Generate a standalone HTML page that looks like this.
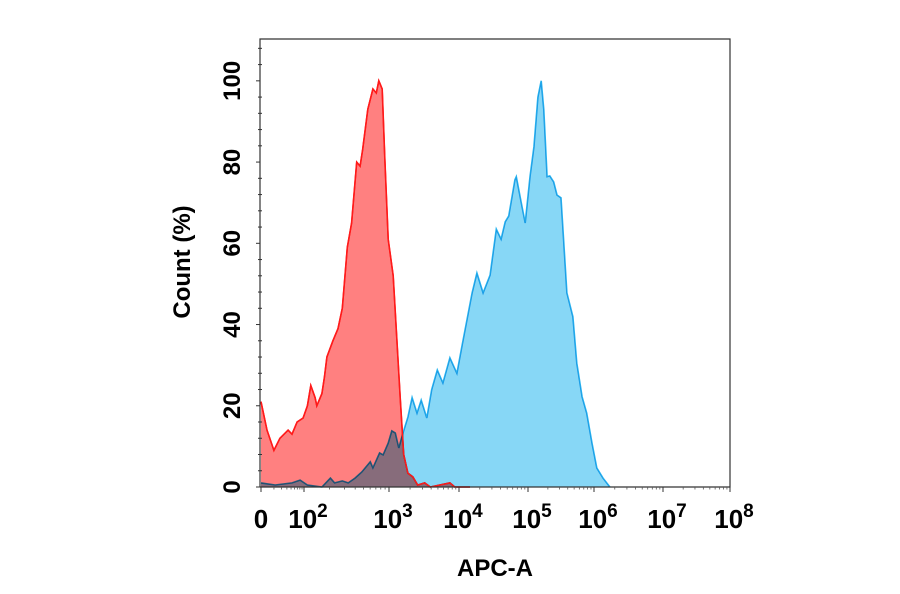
<!DOCTYPE html>
<html><head><meta charset="utf-8"><style>
html,body{margin:0;padding:0;background:#fff}
svg{display:block;font-family:"Liberation Sans",Arial,sans-serif}
</style></head><body>
<svg id="chart" width="900" height="594" viewBox="0 0 900 594" xmlns="http://www.w3.org/2000/svg">
<g id="plot"></g>
<g id="axes"></g>
<text transform="translate(190,262) rotate(-90)" text-anchor="middle" font-size="24" font-weight="bold" fill="#000">Count (%)</text>
<text x="495" y="576" text-anchor="middle" font-size="24" font-weight="bold" fill="#000">APC-A</text>
</svg>
<script>
// Data: x in decade units (1 = "0" label, 2 = 10^2, ... 8 = 10^8), y in Count (%)
const redX = [1.00,1.14,1.30,1.44,1.63,1.72,1.84,1.98,2.04,2.08,2.13,2.15,2.21,2.24,2.27,2.34,2.40,2.45,2.51,2.56,2.62,2.66,2.69,2.75,2.81,2.85,2.88,2.92,2.95,2.99,3.06,3.11,3.16,3.21,3.27,3.34,3.41,3.51,3.59,3.87,3.94,4.16];
const redY = [21,14,9,12,14,13,16,17,20,25,22,20,23,27,32,36,39,44,59,65,80,79,83,93,98,97,100,98,81,61,52,37,22,8,3.4,2.5,0.5,1,0,1,0,0];
const blueX = [1.00,1.33,1.72,1.91,2.04,2.21,2.31,2.36,2.45,2.52,2.60,2.68,2.78,2.81,2.89,2.93,2.99,3.04,3.09,3.14,3.20,3.27,3.33,3.40,3.46,3.54,3.61,3.69,3.77,3.87,3.97,4.04,4.19,4.26,4.35,4.45,4.54,4.61,4.67,4.72,4.81,4.83,4.90,4.96,5.03,5.09,5.15,5.20,5.24,5.29,5.33,5.39,5.44,5.50,5.53,5.59,5.68,5.74,5.82,5.89,5.97,6.04,6.13,6.23];
const blueY = [1,0.5,1,1.7,0.5,0,2.2,1,1.5,1,2.2,3.7,6.2,4.7,8.4,7.9,10.8,13.8,13.3,9.6,13.3,17.2,22,18.2,21.4,17,24,28.8,25.6,31.8,28,34.5,47.8,52.7,47.8,52.2,63.5,61,65.3,66.7,75.6,76.4,70.2,65,76.4,83.7,96,100,92.9,76.4,76.6,75.1,71.9,71.2,63.3,47.8,41.9,30.5,22.2,18.2,10.8,4.7,2.2,0];
const yTicks = [0,20,40,60,80,100];
const xTickVals = [1,2,3,4,5,6,7,8];
const xTickExp = ["","2","3","4","5","6","7","8"];

const NS="http://www.w3.org/2000/svg";
const L=260,R=730,T=39,B=487;
const yMax=110.3;
const xAnchorPx=[261,304,389,459,528,594,663,730];
function xs(v){
  if(v<=1) return xAnchorPx[0];
  if(v>=8) return xAnchorPx[7];
  const i=Math.floor(v)-1, f=v-Math.floor(v);
  return xAnchorPx[i]+(xAnchorPx[i+1]-xAnchorPx[i])*f;
}
function ys(v){return B-(v/yMax)*(B-T);}
function mk(tag,attrs,parent){const e=document.createElementNS(NS,tag);for(const k in attrs)e.setAttribute(k,attrs[k]);parent.appendChild(e);return e;}
const plot=document.getElementById('plot'), axes=document.getElementById('axes');

function areaPath(xa,ya){
  let d="M"+xs(xa[0])+","+B;
  for(let i=0;i<xa.length;i++) d+=" L"+xs(xa[i]).toFixed(1)+","+ys(ya[i]).toFixed(1);
  d+=" L"+xs(xa[xa.length-1]).toFixed(1)+","+B+" Z";
  return d;
}
function linePath(xa,ya){
  let d="";
  for(let i=0;i<xa.length;i++) d+=(i?" L":"M")+xs(xa[i]).toFixed(1)+","+ys(ya[i]).toFixed(1);
  return d;
}
const rf=mk('path',{d:areaPath(redX,redY),fill:'#ff8080',stroke:'none'},plot);


const rl=mk('path',{d:linePath(redX,redY),fill:'none',stroke:'#ff1a1a','stroke-width':1.6},plot);


const bf=mk('path',{d:areaPath(blueX,blueY),fill:'#87d7f6',stroke:'none',style:'mix-blend-mode:multiply'},plot);


const bl=mk('path',{d:linePath(blueX,blueY),fill:'none',stroke:'#2ab4ee','stroke-width':1.6,style:'mix-blend-mode:multiply'},plot);


const rl2=mk('path',{d:linePath(redX,redY),fill:'none',stroke:'#ff1a1a','stroke-width':1.4},plot);



const fr=mk('path',{d:`M${L},${B} L${L},${T} L${R},${T} L${R},${B} L${L},${B}`,fill:'none',stroke:'#333','stroke-width':1.2},axes);


for(let v=0;v<=108;v+=4){
  const major=v%20===0;
  const t=mk('line',{x1:L-(major?4:2),x2:L+(major?0:2),y1:ys(v),y2:ys(v),stroke:'#333','stroke-width':1},axes);
  
  
}
yTicks.forEach(v=>{
  const t=mk('text',{transform:`translate(240,${ys(v)}) rotate(-90)`,'text-anchor':'middle','font-size':24,'font-weight':'bold',fill:'#000'},axes);
  t.textContent=String(v);
  
  
});
xTickVals.forEach(v=>{
  const t=mk('line',{x1:xs(v),x2:xs(v),y1:B,y2:B+5,stroke:'#333','stroke-width':1},axes);
  
  
  if(v<8){for(let k=2;k<10;k++){const mv=v+Math.log10(k);
    const m=mk('line',{x1:xs(mv),x2:xs(mv),y1:B,y2:B+2.5,stroke:'#555','stroke-width':0.8},axes);
    
    }}
});
xTickVals.forEach((v,i)=>{
  const t=mk('text',{x:xs(v),y:528,'font-size':26,'font-weight':'bold',fill:'#000','text-anchor':'middle'},axes);
  
  
  if(i===0){t.textContent="0";}
  else{
    const a=document.createElementNS(NS,'tspan');a.textContent="10";t.appendChild(a);
    const s=document.createElementNS(NS,'tspan');s.setAttribute('dy','-11');s.setAttribute('font-size','19');s.textContent=xTickExp[i];t.appendChild(s);
    t.setAttribute('x',xs(v)+4);
  }
});
</script>
</body></html>
